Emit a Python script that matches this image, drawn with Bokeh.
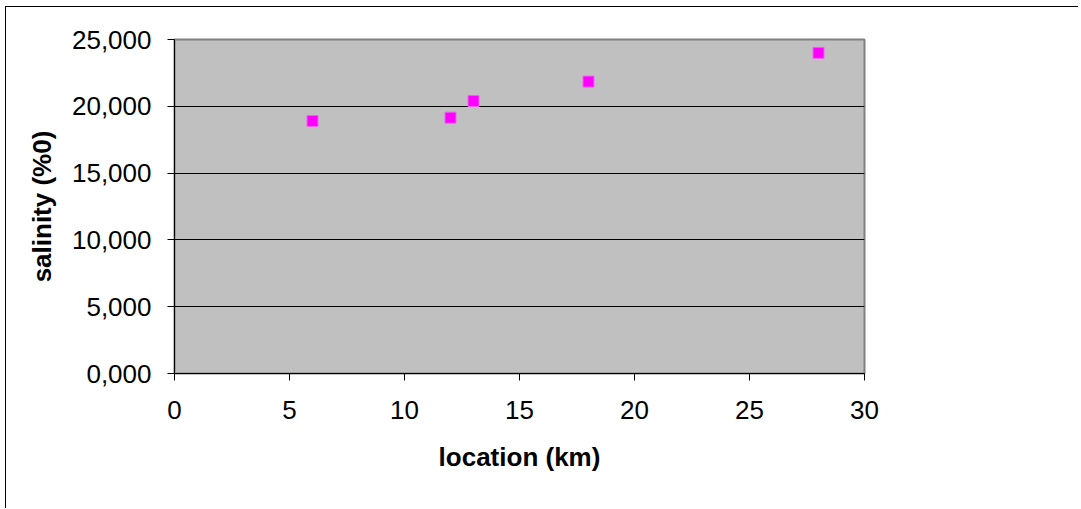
from bokeh.plotting import figure
from bokeh.models import FixedTicker, CustomJSTickFormatter, Range1d
from bokeh.embed import file_html
from bokeh.resources import INLINE

location_km = [6, 12, 13, 18, 28]
salinity = [18.9, 19.15, 20.4, 21.85, 24.0]
x_ticks = [0, 5, 10, 15, 20, 25, 30]
y_ticks = [0, 5, 10, 15, 20, 25]

FONT = "Liberation Sans"

p = figure(width=1073, height=502, output_backend="svg", toolbar_location=None,
           x_range=Range1d(0, 30), y_range=Range1d(0, 25),
           min_border_left=168, min_border_right=215, min_border_top=32, min_border_bottom=136)
p.margin = (6, 0, 0, 5)
p.styles = {"border-left": "1px solid black", "border-top": "1px solid black"}

p.background_fill_color = "#C0C0C0"
p.border_fill_color = "white"
p.outline_line_color = "#808080"
p.outline_line_width = 2

p.scatter(location_km, salinity, marker="square", size=11,
          fill_color="#FF00FF", line_color="#F060F0", line_width=1)

p.xgrid.grid_line_color = None
p.ygrid.grid_line_color = "black"
p.ygrid.grid_line_width = 1

p.xaxis.ticker = FixedTicker(ticks=x_ticks)
p.yaxis.ticker = FixedTicker(ticks=y_ticks)
p.yaxis.formatter = CustomJSTickFormatter(code="return tick.toFixed(3).replace('.', ',');")

for ax in (p.xaxis, p.yaxis):
    ax.axis_line_color = "black"
    ax.axis_line_width = 1
    ax.major_tick_line_color = "black"
    ax.major_tick_in = 0
    ax.major_tick_out = 7
    ax.minor_tick_line_color = None
    ax.major_label_text_font = FONT
    ax.major_label_text_font_size = "26px"
    ax.major_label_text_color = "black"
    ax.axis_label_text_font = FONT
    ax.axis_label_text_font_size = "26px"
    ax.axis_label_text_font_style = "bold"
    ax.axis_label_text_color = "black"

p.xaxis.axis_label = "location (km)"
p.yaxis.axis_label = "salinity (%0)"
p.xaxis.major_label_standoff = 20
p.yaxis.major_label_standoff = 16
p.xaxis.axis_label_standoff = 20
p.yaxis.axis_label_standoff = 12

open("out.html", "w").write(file_html(p, INLINE))
